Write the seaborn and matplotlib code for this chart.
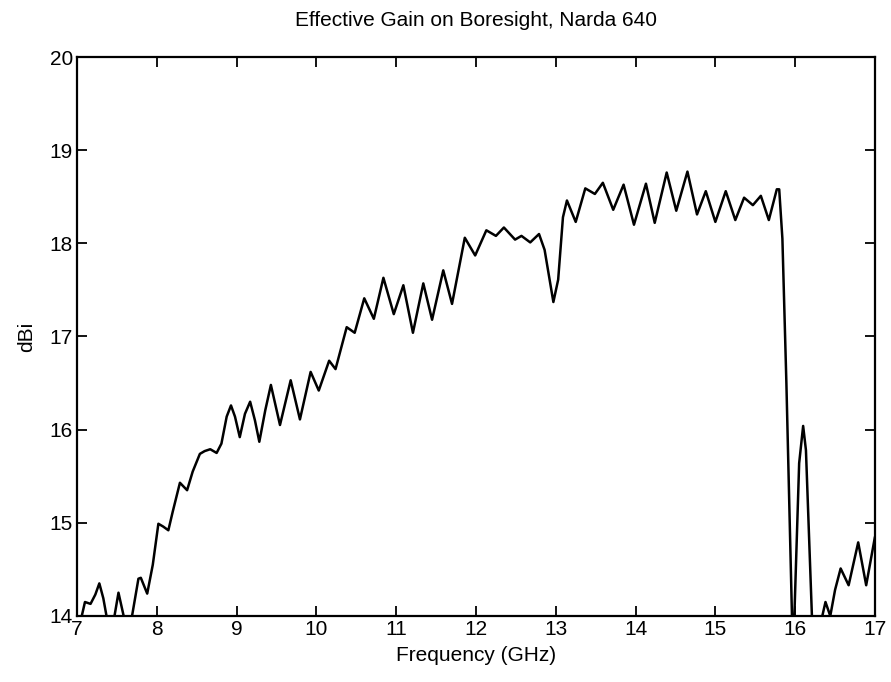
import matplotlib
matplotlib.use("Agg")
import matplotlib.pyplot as plt
import pandas as pd
import seaborn as sns

# Gain (values below 14 are clipped by the axes)
freq_ghz = [7.00, 7.06, 7.10, 7.17, 7.23, 7.28, 7.33, 7.37, 7.42, 7.47, 7.52, 7.585,
            7.64, 7.69, 7.77, 7.80, 7.88, 7.95, 8.02, 8.08, 8.145, 8.20, 8.29, 8.38,
            8.45, 8.54, 8.60, 8.67, 8.75, 8.81, 8.876, 8.93, 8.98, 9.04, 9.105, 9.17,
            9.23, 9.285, 9.36, 9.43, 9.544, 9.678, 9.794, 9.928, 10.03, 10.16, 10.24,
            10.38, 10.48, 10.60, 10.72, 10.84, 10.97, 11.09, 11.21, 11.34, 11.45, 11.59,
            11.70, 11.86, 11.99, 12.13, 12.25, 12.35, 12.49, 12.57, 12.68, 12.79, 12.86,
            12.97, 13.03, 13.09, 13.14, 13.25, 13.37, 13.49, 13.59, 13.72, 13.85, 13.98,
            14.13, 14.24, 14.39, 14.51, 14.65, 14.77, 14.88, 15.00, 15.13, 15.25, 15.36,
            15.47, 15.57, 15.67, 15.77, 15.80, 15.84, 15.89, 15.93, 15.96, 15.975, 15.99,
            16.05, 16.10, 16.135, 16.21, 16.28, 16.34, 16.38, 16.44, 16.50, 16.57, 16.67,
            16.79, 16.89, 17.00]
gain_dbi = [13.85, 14.00, 14.15, 14.13, 14.23, 14.35, 14.19, 14.00, 13.80, 14.00, 14.25, 14.00,
            13.80, 14.00, 14.40, 14.41, 14.24, 14.55, 14.99, 14.96, 14.92, 15.12, 15.43, 15.35,
            15.55, 15.74, 15.77, 15.79, 15.75, 15.85, 16.14, 16.26, 16.14, 15.92, 16.17, 16.30,
            16.10, 15.87, 16.21, 16.48, 16.05, 16.53, 16.11, 16.62, 16.42, 16.74, 16.65,
            17.10, 17.04, 17.41, 17.19, 17.63, 17.24, 17.55, 17.04, 17.57, 17.18, 17.71,
            17.35, 18.06, 17.87, 18.14, 18.08, 18.17, 18.04, 18.08, 18.01, 18.10, 17.93,
            17.37, 17.61, 18.28, 18.46, 18.23, 18.59, 18.53, 18.65, 18.36, 18.63, 18.20,
            18.64, 18.22, 18.76, 18.35, 18.77, 18.31, 18.56, 18.23, 18.56, 18.25, 18.49,
            18.41, 18.51, 18.25, 18.58, 18.58, 18.05, 16.50, 15.07, 14.00, 12.50, 14.00,
            15.64, 16.04, 15.78, 14.00, 13.30, 14.00, 14.15, 14.00, 14.28, 14.51, 14.33,
            14.79, 14.33, 14.85]

df = pd.DataFrame({"freq": freq_ghz, "gain": gain_dbi})

sns.set_theme(style="ticks")
plt.rcParams["font.family"] = ["Liberation Sans", "DejaVu Sans"]
plt.rcParams["text.color"] = "black"
plt.rcParams["axes.labelcolor"] = "black"

fig = plt.figure(figsize=(8.91, 6.82), dpi=100)
ax = fig.add_axes([0.0864, 0.0968, 0.8956, 0.8196])
sns.lineplot(data=df, x="freq", y="gain", color="black", linewidth=1.8,
             estimator=None, sort=False, ax=ax)
ax.lines[0].set_solid_joinstyle("round")

ax.set_xlim(7, 17)
ax.set_ylim(14, 20)
ax.set_xticks(range(7, 18))
ax.set_yticks(range(14, 21))
ax.tick_params(direction="in", length=7, width=1.3, top=True, right=True,
               labelsize=15, colors="black", pad=3)
for s in ax.spines.values():
    s.set_linewidth(1.6)
    s.set_color("black")
    s.set_visible(True)

ax.set_title("Effective Gain on Boresight, Narda 640", fontsize=15, pad=22, color="black")
ax.set_xlabel("Frequency (GHz)", fontsize=15, labelpad=5)
ax.set_ylabel("dBi", fontsize=15, labelpad=10)

fig.savefig("out.png", dpi=100)
